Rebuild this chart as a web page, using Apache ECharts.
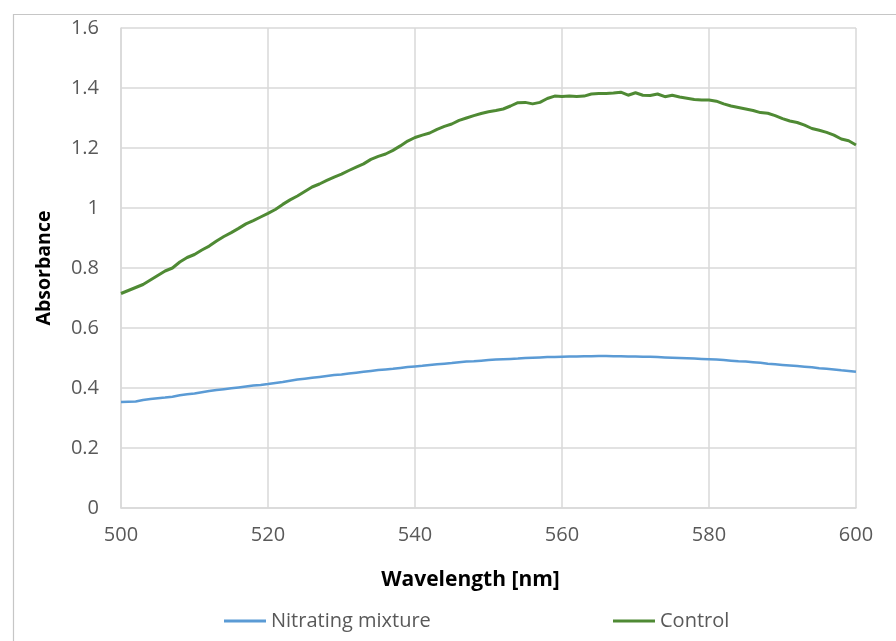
<!DOCTYPE html>
<html>
<head>
<meta charset="utf-8">
<script src="https://cdn.jsdelivr.net/npm/echarts@6/dist/echarts.min.js"></script>
<style>
  html, body { margin: 0; padding: 0; background: #ffffff; }
  #chart { width: 896px; height: 641px; }
</style>
</head>
<body>
<div id="chart"></div>
<script>
// Wavelength grid (nm), 1 nm steps
const wavelengths = [];
for (let w = 500; w <= 600; w++) wavelengths.push(w);

// Absorbance of the nitrating mixture sample
const nitratingMixture = [
  0.353, 0.354, 0.355, 0.360, 0.363, 0.366, 0.368, 0.371, 0.376, 0.379,
  0.382, 0.386, 0.390, 0.393, 0.396, 0.399, 0.402, 0.405, 0.408, 0.410,
  0.413, 0.417, 0.420, 0.424, 0.428, 0.431, 0.434, 0.437, 0.440, 0.443,
  0.445, 0.448, 0.451, 0.454, 0.457, 0.460, 0.462, 0.464, 0.467, 0.470,
  0.472, 0.474, 0.477, 0.479, 0.481, 0.483, 0.486, 0.488, 0.489, 0.491,
  0.493, 0.495, 0.496, 0.497, 0.498, 0.500, 0.501, 0.502, 0.503, 0.503,
  0.504, 0.505, 0.505, 0.506, 0.506, 0.507, 0.507, 0.506, 0.506, 0.505,
  0.505, 0.504, 0.504, 0.503, 0.502, 0.501, 0.500, 0.499, 0.498, 0.497,
  0.496, 0.495, 0.493, 0.491, 0.489, 0.488, 0.486, 0.484, 0.481, 0.479,
  0.477, 0.475, 0.473, 0.471, 0.469, 0.466, 0.464, 0.462, 0.459, 0.457,
  0.454
];

// Absorbance of the control sample
const control = [
  0.715, 0.725, 0.735, 0.745, 0.760, 0.775, 0.790, 0.800, 0.820, 0.835,
  0.845, 0.860, 0.873, 0.890, 0.905, 0.918, 0.932, 0.947, 0.958, 0.970,
  0.982, 0.995, 1.012, 1.027, 1.040, 1.055, 1.070, 1.080, 1.092, 1.103,
  1.113, 1.125, 1.136, 1.147, 1.162, 1.172, 1.180, 1.192, 1.207, 1.223,
  1.235, 1.243, 1.250, 1.262, 1.272, 1.280, 1.292, 1.300, 1.308, 1.315,
  1.321, 1.325, 1.330, 1.340, 1.351, 1.352, 1.347, 1.352, 1.365, 1.373,
  1.372, 1.373, 1.372, 1.373, 1.380, 1.382, 1.382, 1.383, 1.386, 1.376,
  1.384, 1.376, 1.375, 1.380, 1.371, 1.376, 1.370, 1.366, 1.362, 1.360,
  1.360, 1.356, 1.347, 1.340, 1.335, 1.330, 1.325, 1.318, 1.316, 1.308,
  1.298, 1.290, 1.285, 1.276, 1.265, 1.259, 1.252, 1.243, 1.230, 1.224,
  1.210
];

const seriesNames = ['Nitrating mixture', 'Control'];

const FONT = 'Open Sans';
const gridColor = '#d9d9d9';

const pairs = (ys) => wavelengths.map((w, i) => [w, ys[i]]);

const chart = echarts.init(document.getElementById('chart'), null, { renderer: 'canvas' });

const legendItem = (name, left) => ({
  data: [name],
  left: left, top: 611,
  padding: 0,
  itemWidth: 42, itemHeight: 3, itemGap: 5,
  icon: 'rect',
  textStyle: { fontFamily: FONT, fontSize: 20, color: '#595959' }
});

chart.setOption({
  backgroundColor: '#ffffff',
  animation: false,
  textStyle: { fontFamily: FONT },
  graphic: [{
    type: 'rect',
    shape: { x: 13.5, y: 14.5, width: 1000, height: 1000 },
    style: { fill: 'none', stroke: '#c6c6c6', lineWidth: 1.2 },
    silent: true
  }],
  grid: { left: 121, right: 40, top: 28, bottom: 133 },
  legend: [legendItem(seriesNames[0], 224), legendItem(seriesNames[1], 613)],
  xAxis: {
    type: 'value',
    min: 500, max: 600, interval: 20,
    name: 'Wavelength [nm]',
    nameLocation: 'middle',
    nameGap: 62,
    nameTextStyle: {
      fontFamily: FONT, fontSize: 21, fontWeight: 'bold', color: '#000000',
      padding: [0, 36, 0, 0]
    },
    axisLine: { show: true, lineStyle: { color: gridColor, width: 1.5 } },
    axisTick: { show: false },
    axisLabel: { margin: 17, fontSize: 20, color: '#595959', fontFamily: FONT },
    splitLine: { show: true, lineStyle: { color: gridColor, width: 1.5 } }
  },
  yAxis: {
    type: 'value',
    min: 0, max: 1.6, interval: 0.2,
    name: 'Absorbance',
    nameLocation: 'middle',
    nameGap: 67,
    nameRotate: 90,
    nameTextStyle: { fontFamily: FONT, fontSize: 19.5, fontWeight: 'bold', color: '#000000' },
    axisLine: { show: true, lineStyle: { color: gridColor, width: 1.5 } },
    axisTick: { show: false },
    axisLabel: { margin: 22, fontSize: 20, color: '#595959', fontFamily: FONT },
    splitLine: { show: true, lineStyle: { color: gridColor, width: 1.5 } }
  },
  series: [
    {
      name: seriesNames[0],
      type: 'line',
      data: pairs(nitratingMixture),
      showSymbol: false,
      symbol: 'none',
      lineStyle: { color: '#5b9bd5', width: 2.5 },
      itemStyle: { color: '#5b9bd5' }
    },
    {
      name: seriesNames[1],
      type: 'line',
      data: pairs(control),
      showSymbol: false,
      symbol: 'none',
      lineStyle: { color: '#4f8a34', width: 3 },
      itemStyle: { color: '#4f8a34' }
    }
  ]
});
</script>
</body>
</html>
